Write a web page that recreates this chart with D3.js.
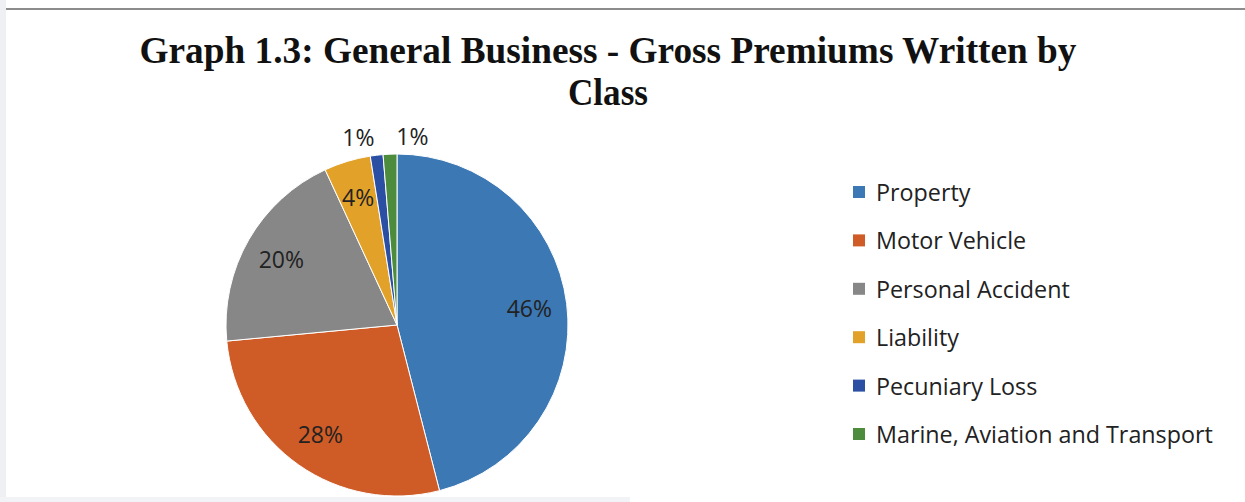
<!DOCTYPE html>
<html>
<head>
<meta charset="utf-8">
<script src="https://cdn.jsdelivr.net/npm/d3@7"></script>
<style>
  html, body { margin: 0; padding: 0; background: #ffffff; }
  svg { display: block; }
</style>
</head>
<body>
<svg id="chart" width="1245" height="502"></svg>
<script>
const titleLines = ["Graph 1.3: General Business - Gross Premiums Written by", "Class"];
const categories = ["Property", "Motor Vehicle", "Personal Accident", "Liability", "Pecuniary Loss", "Marine, Aviation and Transport"];
const values = [46.0, 27.5, 19.6, 4.4, 1.2, 1.3];
const colors = ["#3c78b4", "#cf5c26", "#878787", "#e2a22a", "#2b4fa3", "#4c8c3c"];

const W = 1245, H = 502;
const svg = d3.select("#chart");

// page decoration: light left strip and grey rule at top
svg.append("rect").attr("x", 0).attr("y", 0).attr("width", 6).attr("height", H).attr("fill", "#eef0f4");
svg.append("rect").attr("x", 0).attr("y", 497).attr("width", 630).attr("height", 5).attr("fill", "#f1f3f6");
svg.append("line").attr("x1", 6).attr("x2", W).attr("y1", 9).attr("y2", 9)
  .attr("stroke", "#8c8c8c").attr("stroke-width", 2);

// title
const titleWidths = [937, 80];
const titleY = [63, 105];
titleLines.forEach((t, i) => {
  svg.append("text")
    .attr("x", 608).attr("y", titleY[i])
    .attr("text-anchor", "middle")
    .attr("font-family", "'Liberation Serif', 'Times New Roman', serif")
    .attr("font-weight", "bold")
    .attr("font-size", 37)
    .attr("textLength", titleWidths[i])
    .attr("lengthAdjust", "spacingAndGlyphs")
    .attr("fill", "#111")
    .text(t);
});

// pie
const cx = 397, cy = 325, R = 171;
const data = categories.map((c, i) => ({ cat: c, value: values[i], color: colors[i] }));
const total = d3.sum(values);
const pie = d3.pie().sort(null).value(d => d.value);
const arcs = pie(data);
const arc = d3.arc().innerRadius(0).outerRadius(R);
const g = svg.append("g").attr("transform", `translate(${cx},${cy})`);

g.selectAll("path").data(arcs).join("path")
  .attr("d", arc)
  .attr("fill", d => d.data.color)
  .attr("stroke", "#ffffff")
  .attr("stroke-width", 1);

const labelFont = "'Open Sans', sans-serif";
const inArc = d3.arc().innerRadius(R * 0.78).outerRadius(R * 0.78);
const outR = R + 18;
let smallIdx = 0;
arcs.forEach(d => {
  const pct = Math.round(d.data.value / total * 100) + "%";
  const t = g.append("text")
    .attr("font-family", labelFont)
    .attr("font-size", 23)
    .attr("fill", "#222")
    .attr("dominant-baseline", "central")
    .text(pct);
  if (d.data.value / total >= 0.03) {
    const [x, y] = inArc.centroid(d);
    t.attr("x", x).attr("y", y).attr("text-anchor", "middle");
  } else {
    const a = (d.startAngle + d.endAngle) / 2;
    const x = outR * Math.sin(a), y = -outR * Math.cos(a);
    const anchor = smallIdx % 2 === 0 ? "end" : "start";
    t.attr("x", x + (anchor === "start" ? 7 : 0)).attr("y", y).attr("text-anchor", anchor);
    smallIdx++;
  }
});

// legend
const legendY = d3.scalePoint().domain(categories).range([192, 434]);
const lg = svg.append("g");
const texts = [];
categories.forEach((c, i) => {
  const y = legendY(c);
  lg.append("rect").attr("x", 853).attr("y", y - 6).attr("width", 12).attr("height", 12).attr("fill", colors[i]);
  texts.push(lg.append("text").attr("x", 876).attr("y", y)
    .attr("dominant-baseline", "central")
    .attr("font-family", labelFont)
    .attr("font-size", 21)
    .attr("fill", "#222")
    .text(c));
});
// fit legend font so the longest entry spans like the reference (~337px)
const longest = d3.max(texts, t => t.node().getComputedTextLength());
const fs = 21 * 337 / longest;
texts.forEach(t => t.attr("font-size", fs));
</script>
</body>
</html>
